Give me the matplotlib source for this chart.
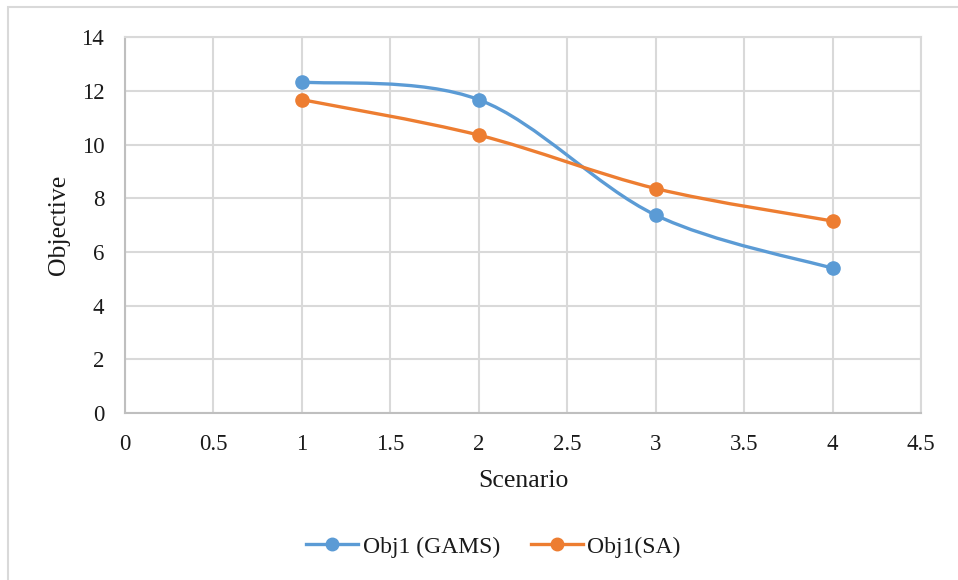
import numpy as np
from matplotlib import pyplot as plt
from matplotlib.path import Path
from matplotlib.patches import PathPatch, Rectangle
from matplotlib.lines import Line2D

# data
scenarios = [1, 2, 3, 4]
obj_gams = [12.33, 11.67, 7.37, 5.39]
obj_sa = [11.67, 10.35, 8.36, 7.15]
series_labels = ["Obj1 (GAMS)", "Obj1(SA)"]
x_ticks = [0, 0.5, 1, 1.5, 2, 2.5, 3, 3.5, 4, 4.5]
x_tick_labels = ["0", "0.5", "1", "1.5", "2", "2.5", "3", "3.5", "4", "4.5"]
y_ticks = [0, 2, 4, 6, 8, 10, 12, 14]

BLUE = "#5B9BD5"
ORANGE = "#ED7D31"
GRID = "#D9D9D9"
FONT = "Liberation Serif"


def smooth_path(xs, ys):
    # Excel-like smoothed line: cubic bezier through every point
    pts = np.column_stack([xs, ys]).astype(float)
    n = len(pts)
    verts = [pts[0]]
    codes = [Path.MOVETO]
    for i in range(n - 1):
        prev = pts[i - 1] if i > 0 else pts[i]
        nxt = pts[i + 2] if i + 2 < n else pts[i + 1]
        c1 = pts[i] + (pts[i + 1] - prev) / 6.0
        c2 = pts[i + 1] - (nxt - pts[i]) / 6.0
        verts += [c1, c2, pts[i + 1]]
        codes += [Path.CURVE4] * 3
    return Path(verts, codes)


plt.rcParams["font.family"] = [FONT, "DejaVu Serif"]

fig = plt.figure(figsize=(9.58, 5.80), dpi=100)
ax = fig.add_axes([0.1305, 0.288, 0.8309, 0.648])

for ys, color in [(obj_gams, BLUE), (obj_sa, ORANGE)]:
    patch = PathPatch(smooth_path(scenarios, ys), facecolor="none",
                      edgecolor=color, linewidth=2.4, capstyle="round", zorder=3)
    ax.add_patch(patch)
    ax.plot(scenarios, ys, linestyle="none", marker="o", markersize=9.5,
            color=color, zorder=4)

ax.set_xlim(0, 4.5)
ax.set_ylim(0, 14)
ax.set_xticks(x_ticks)
ax.set_xticklabels(x_tick_labels)
ax.set_yticks(y_ticks)
ax.grid(True, color=GRID, linewidth=1.5)
ax.set_axisbelow(True)
for side in ["top", "right"]:
    ax.spines[side].set_color(GRID)
    ax.spines[side].set_linewidth(1.5)
for side in ["left", "bottom"]:
    ax.spines[side].set_color("#BFBFBF")
    ax.spines[side].set_linewidth(1.5)
ax.tick_params(length=0, labelsize=16.5, pad=15, labelcolor="#1a1a1a")

ax.set_xlabel("Scenario", fontsize=18.5, labelpad=11, color="#1a1a1a")
ax.set_ylabel("Objective", fontsize=18.5, labelpad=8, color="#1a1a1a")

handles = [Line2D([], [], color=BLUE, linewidth=2.4, marker="o", markersize=9),
           Line2D([], [], color=ORANGE, linewidth=2.4, marker="o", markersize=9)]
fig.legend(handles, series_labels, loc="center", bbox_to_anchor=(0.515, 0.057),
           ncol=2, frameon=False, fontsize=17, handlelength=2.2,
           handletextpad=0.2, columnspacing=1.3, labelcolor="#1a1a1a")

# outer chart border (cut off at right and bottom like the reference)
fig.patches.append(Rectangle((8 / 958, -0.1), 1.2, 0.1 + 573 / 580,
                             transform=fig.transFigure, facecolor="none",
                             edgecolor=GRID, linewidth=1.5, zorder=0))

fig.savefig("out.png", dpi=100)
